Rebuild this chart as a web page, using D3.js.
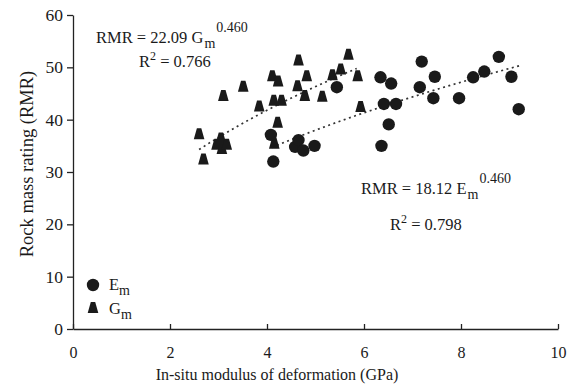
<!DOCTYPE html>
<html>
<head>
<meta charset="utf-8">
<script src="https://cdn.jsdelivr.net/npm/d3@7"></script>
<style>
  body { margin: 0; background: #fff; }
  text { font-family: "Liberation Serif", "Times New Roman", serif; fill: #1a1a1a; }
</style>
</head>
<body>
<script>
// E_m points (circles)
var emX = [4.08, 4.13, 4.58, 4.65, 4.75, 4.98, 5.44, 6.34, 6.56, 6.41, 6.66, 6.51, 6.36, 7.19, 7.15, 7.46, 7.43, 7.96, 8.25, 8.48, 8.78, 9.04, 9.19];
var emY = [37.1, 32.0, 34.8, 36.1, 34.1, 35.0, 46.2, 48.1, 46.9, 43.0, 43.0, 39.1, 35.0, 51.1, 46.2, 48.2, 44.1, 44.1, 48.1, 49.2, 52.0, 48.2, 42.0];

// G_m points (triangles)
var gmX = [2.60, 2.69, 2.96, 3.05, 3.07, 3.17, 3.10, 3.51, 3.84, 4.11, 4.23, 4.14, 4.30, 4.22, 4.15, 4.65, 4.63, 4.82, 4.78, 5.14, 5.35, 5.52, 5.68, 5.87, 5.93];
var gmY = [37.2, 32.4, 35.2, 36.4, 34.4, 35.2, 44.5, 46.3, 42.5, 48.3, 47.3, 43.6, 43.6, 39.4, 35.4, 51.3, 46.4, 48.3, 44.5, 44.4, 48.5, 49.6, 52.4, 48.3, 42.4];

// power fits RMR = a * x^b, drawn over the range [x0, x1]
var fitG = [22.09, 0.460, 2.6, 5.85];
var fitE = [18.12, 0.460, 4.1, 9.2];

var xTicks = [0, 2, 4, 6, 8, 10];
var yTicks = [0, 10, 20, 30, 40, 50, 60];

var width = 576, height = 392;

var svg = d3.select("body").append("svg")
    .attr("width", width)
    .attr("height", height);

var x = d3.scaleLinear().domain([0, 10]).range([73, 558]);
var y = d3.scaleLinear().domain([0, 60]).range([329, 15]);

// axes
svg.append("g")
    .attr("transform", "translate(0," + y(0) + ")")
    .call(d3.axisBottom(x).tickValues(xTicks).tickSizeInner(-5).tickSizeOuter(0))
    .call(function(g){
      g.select(".domain").attr("stroke", "#222").attr("stroke-width", 1.3);
      g.selectAll(".tick line").attr("stroke", "#222").attr("stroke-width", 1.3);
      g.selectAll("text").attr("font-size", 16).attr("dy", 0).attr("y", 29);
    });

svg.append("g")
    .attr("transform", "translate(" + x(0) + ",0)")
    .call(d3.axisLeft(y).tickValues(yTicks).tickSizeInner(6).tickSizeOuter(0).tickPadding(4))
    .call(function(g){
      g.select(".domain").attr("stroke", "#222").attr("stroke-width", 1.3);
      g.selectAll(".tick line").attr("stroke", "#222").attr("stroke-width", 1.3);
      g.selectAll("text").attr("font-size", 17.5);
    });

svg.append("text")
    .attr("x", 277).attr("y", 380)
    .attr("text-anchor", "middle")
    .attr("font-size", 16)
    .text("In-situ modulus of deformation (GPa)");

svg.append("text")
    .attr("transform", "translate(33,164) rotate(-90)")
    .attr("text-anchor", "middle")
    .attr("font-size", 18.5)
    .text("Rock mass rating (RMR)");

// fit curves
function fitLine(f){
  var pts = d3.range(0, 41).map(function(i){
    var xv = f[2] + (f[3] - f[2]) * i / 40;
    return [xv, f[0] * Math.pow(xv, f[1])];
  });
  svg.append("path")
      .datum(pts)
      .attr("fill", "none")
      .attr("stroke", "#333")
      .attr("stroke-width", 1.7)
      .attr("stroke-dasharray", "2,3.5")
      .attr("d", d3.line().x(function(d){ return x(d[0]); }).y(function(d){ return y(d[1]); }));
}
fitLine(fitG);
fitLine(fitE);

// markers
var tri = "M-2.2,-6 L2.2,-6 L5.3,5 L-5.3,5 Z";

svg.selectAll("path.gm")
    .data(d3.zip(gmX, gmY)).enter()
    .append("path")
    .attr("class", "gm")
    .attr("d", tri)
    .attr("transform", function(d){ return "translate(" + x(d[0]) + "," + y(d[1]) + ")"; })
    .attr("fill", "#1a1a1a");

svg.selectAll("circle.em")
    .data(d3.zip(emX, emY)).enter()
    .append("circle")
    .attr("class", "em")
    .attr("cx", function(d){ return x(d[0]); })
    .attr("cy", function(d){ return y(d[1]); })
    .attr("r", 6.2)
    .attr("fill", "#1a1a1a");

// equations
function equation(tx, ty, a, v, r2, rx, ry){
  var t = svg.append("text").attr("x", tx).attr("y", ty).attr("font-size", 16.5);
  t.append("tspan").text("RMR = " + a + " " + v);
  t.append("tspan").attr("font-size", 14).attr("dx", 1).attr("dy", 5).text("m");
  t.append("tspan").attr("font-size", 14).attr("dx", 1).attr("dy", -16).text("0.460");
  var r = svg.append("text").attr("x", rx).attr("y", ry).attr("font-size", 16.5);
  r.append("tspan").text("R");
  r.append("tspan").attr("font-size", 12).attr("dy", -7).text("2");
  r.append("tspan").attr("dy", 7).text(" = " + r2);
}
equation(96, 43, "22.09", "G", "0.766", 139, 67);
equation(361, 194, "18.12", "E", "0.798", 390, 230);

// legend
svg.append("circle").attr("cx", 93).attr("cy", 285).attr("r", 6.2).attr("fill", "#1a1a1a");
svg.append("path").attr("d", tri).attr("transform", "translate(93,308)").attr("fill", "#1a1a1a");
var l1 = svg.append("text").attr("x", 109).attr("y", 290).attr("font-size", 16.5);
l1.append("tspan").text("E");
l1.append("tspan").attr("font-size", 14).attr("dy", 5).text("m");
var l2 = svg.append("text").attr("x", 109).attr("y", 314).attr("font-size", 16.5);
l2.append("tspan").text("G");
l2.append("tspan").attr("font-size", 14).attr("dy", 5).text("m");
</script>
</body>
</html>
